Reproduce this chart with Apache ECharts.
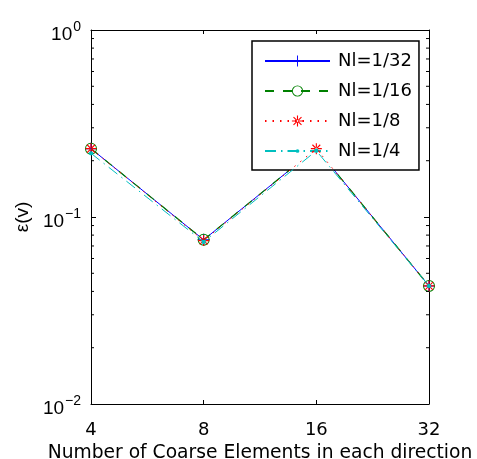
<!DOCTYPE html>
<html>
<head>
<meta charset="utf-8">
<script src="https://cdn.jsdelivr.net/npm/echarts@6/dist/echarts.min.js"></script>
<style>html,body{margin:0;padding:0;background:#fff;}#c{width:477px;height:459px;}</style>
</head>
<body>
<div id="c"></div>
<script>
var categories = ['4', '8', '16', '32'];
var seriesNames = ['Nl=1/32', 'Nl=1/16', 'Nl=1/8', 'Nl=1/4'];
var s32 = [0.232, 0.0755, 0.233, 0.0428];
var s16 = [0.232, 0.0755, 0.233, 0.0428];
var s8 = [0.232, 0.0748, 0.232, 0.0428];
var s4 = [0.219, 0.0736, 0.226, 0.0428];
var yTicks = [0.01, 0.1, 1];

var FONT = 'Liberation Sans, Arial, Helvetica, sans-serif';
var WIDE = 'DejaVu Sans, Verdana, sans-serif';
var chart = echarts.init(document.getElementById('c'));

var plusPath = 'path://M-0.5,-6H0.5V6H-0.5Z M-6,-0.5H-0.5V0.5H-6Z M0.5,-0.5H6V0.5H0.5Z';
var starPath = 'path://M-0.5,-5H0.5V5H-0.5Z M-5,-0.5H5V0.5H-5Z M-3.9,-3.2L3.2,3.9L3.9,3.2L-3.2,-3.9Z M3.2,-3.9L-3.9,3.2L-3.2,3.9L3.9,-3.2Z';
var ringPath = 'path://M0,-6A6,6,0,1,1,0,6A6,6,0,1,1,0,-6Z M0,-5A5,5,0,1,0,0,5A5,5,0,1,0,0,-5Z';
var dotPath = 'path://M-6,-6M6,6M0,-2A2,2,0,1,1,0,2A2,2,0,1,1,0,-2Z';

function yFmt(v) {
  var e = Math.round(Math.log10(v));
  return '{b|10}{s|' + (e < 0 ? '\u2212' + (-e) : e) + '}';
}
var rich = {
  b: {fontSize: 19, fontFamily: FONT, color: '#000', padding: [10, 0, 0, 0]},
  s: {fontSize: 14, fontFamily: FONT, color: '#000', padding: [0, 0, 6, 1]}
};

var option = {
  animation: false,
  backgroundColor: '#fff',
  grid: {left: 91, right: 48, top: 30, bottom: 55, show: false, outerBoundsMode: 'none', containLabel: false},
  legend: {
    orient: 'vertical',
    left: 252, top: 41,
    padding: [11, 7, 10, 12],
    itemWidth: 65, itemHeight: 14, itemGap: 12,
    borderColor: '#000', borderWidth: 1.5,
    backgroundColor: '#fff',
    textStyle: {fontSize: 18, fontFamily: WIDE, color: '#000', padding: [0, 0, 0, 3]},
    data: seriesNames
  },
  xAxis: [{
    type: 'category', data: categories, boundaryGap: false,
    axisLine: {lineStyle: {color: '#000', width: 1}},
    axisTick: {inside: true, length: 4, lineStyle: {color: '#000'}},
    axisLabel: {fontSize: 18, fontFamily: WIDE, color: '#000', margin: 17},
    splitLine: {show: false},
    name: 'Number of Coarse Elements in each direction',
    nameLocation: 'middle', nameGap: 40,
    nameTextStyle: {fontSize: 18.7, fontFamily: WIDE, color: '#000'}
  }, {
    type: 'category', data: categories, boundaryGap: false, position: 'top',
    axisLine: {lineStyle: {color: '#000', width: 1}},
    axisTick: {inside: true, length: 4, lineStyle: {color: '#000'}},
    axisLabel: {show: false}, splitLine: {show: false}
  }],
  yAxis: [{
    type: 'log', logBase: 10, min: 0.01, max: 1,
    axisLine: {show: true, lineStyle: {color: '#000', width: 1}},
    axisTick: {show: true, inside: true, length: 5, lineStyle: {color: '#000'}},
    axisLabel: {formatter: yFmt, rich: rich, margin: 10},
    splitLine: {show: false},
    name: '\u03b5(v)', nameLocation: 'middle', nameRotate: 90, nameGap: 53,
    nameTextStyle: {fontSize: 19, fontFamily: FONT, color: '#000'}
  }, {
    type: 'log', logBase: 10, min: 0.01, max: 1, position: 'right',
    axisLine: {show: true, lineStyle: {color: '#000', width: 1}},
    axisTick: {show: true, inside: true, length: 5, lineStyle: {color: '#000'}},
    axisLabel: {show: false}, splitLine: {show: false}
  }],
  series: [{
    name: seriesNames[0], type: 'line', data: s32, z: 2,
    symbol: plusPath, symbolSize: 12,
    lineStyle: {color: '#0000ff', width: 1, type: 'solid'},
    itemStyle: {color: '#0000ff'}
  }, {
    name: seriesNames[1], type: 'line', data: s16, z: 3,
    symbol: ringPath, symbolSize: 12,
    lineStyle: {color: '#008000', width: 1.2, type: [9, 9]},
    itemStyle: {color: '#008000'}
  }, {
    name: seriesNames[2], type: 'line', data: s8, z: 4,
    symbol: starPath, symbolSize: 11,
    lineStyle: {color: '#ff0000', width: 1, type: [1.5, 6]},
    itemStyle: {color: '#ff0000'}
  }, {
    name: seriesNames[3], type: 'line', data: s4, z: 5,
    symbol: dotPath, symbolSize: 13,
    lineStyle: {color: '#00bfbf', width: 1, type: [11, 5, 1.5, 5]},
    itemStyle: {color: '#00bfbf'}
  }]
};
chart.setOption(option);

// minor ticks on the log axes
var els = [];
var xl = chart.convertToPixel({xAxisIndex: 0}, categories[0]);
var xr = chart.convertToPixel({xAxisIndex: 0}, categories[categories.length - 1]);
for (var d = 0; d < yTicks.length - 1; d++) {
  for (var k = 2; k <= 9; k++) {
    var v = yTicks[d] * k;
    var py = chart.convertToPixel({yAxisIndex: 0}, v);
    els.push({type: 'line', shape: {x1: xl, y1: py, x2: xl + 3, y2: py}, style: {stroke: '#000', lineWidth: 1}, z: 10});
    els.push({type: 'line', shape: {x1: xr - 3, y1: py, x2: xr, y2: py}, style: {stroke: '#000', lineWidth: 1}, z: 10});
  }
}
chart.setOption({graphic: els});
</script>
</body>
</html>
